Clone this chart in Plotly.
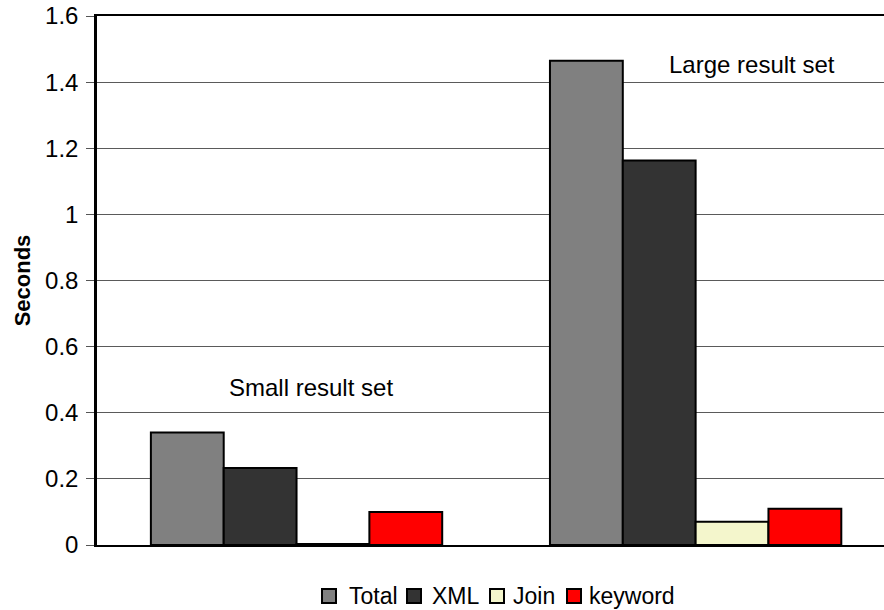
import plotly.graph_objects as go

# Query timing results (seconds) for two result-set sizes
groups = [0, 1]
group_labels = ["Small result set", "Large result set"]
total = [0.34, 1.465]
xml = [0.233, 1.163]
join = [0.003, 0.07]
keyword = [0.10, 0.11]

series_names = ["Total", "XML", "Join", "keyword"]
series_values = [total, xml, join, keyword]
series_colors = ["#808080", "#333333", "#F4F6CC", "#FF0000"]

y_ticks = [0, 0.2, 0.4, 0.6, 0.8, 1.0, 1.2, 1.4, 1.6]
y_tick_text = ["0", "0.2", "0.4", "0.6", "0.8", "1", "1.2", "1.4", "1.6"]

FONT = "Liberation Sans, Arial, sans-serif"
W, H = 884, 610
ML, MR, MT, MB = 97, 0, 16, 65
PW, PH = W - ML - MR, H - MT - MB

fig = go.Figure()
for name, vals, color in zip(series_names, series_values, series_colors):
    fig.add_trace(go.Bar(
        x=groups, y=vals, name=name,
        marker=dict(color=color, line=dict(color="black", width=2)),
    ))

fig.update_layout(
    width=W, height=H,
    margin=dict(l=ML, r=MR, t=MT, b=MB),
    paper_bgcolor="white", plot_bgcolor="white",
    barmode="group", bargap=0.27, bargroupgap=0,
    font=dict(family=FONT, size=24, color="black"),
    showlegend=False,
    xaxis=dict(
        range=[-0.5, 1.472], showticklabels=False, ticks="",
        showgrid=False, zeroline=False,
        showline=True, linecolor="black", linewidth=2, mirror=True,
    ),
    yaxis=dict(
        range=[0, 1.6], tickvals=y_ticks, ticktext=y_tick_text,
        ticks="outside", ticklen=8, tickcolor="#555555", tickwidth=1,
        tickfont=dict(size=24), ticklabelstandoff=3,
        showgrid=True, gridcolor="#5a5a5a", gridwidth=1,
        zeroline=False,
        showline=True, linecolor="black", linewidth=2.5,
        title=dict(text="<b>Seconds</b>", font=dict(size=22), standoff=9),
    ),
)

fig.add_annotation(x=0.036, y=0.477, xref="x", yref="y", text=group_labels[0],
                   showarrow=False, font=dict(size=24), xanchor="center", yanchor="middle")
fig.add_annotation(x=1.142, y=1.453, xref="x", yref="y", text=group_labels[1],
                   showarrow=False, font=dict(size=24), xanchor="center", yanchor="middle")

# Legend row below the plot: swatch + label for each series
def px_x(px):
    return (px - ML) / PW

def px_y(py):
    return (H - MB - py) / PH

swatch_left = [322, 407, 490, 567]
label_left = [348, 431, 512, 588]
legend_cy = 596
half = 7
for name, color, sx, lx in zip(series_names, series_colors, swatch_left, label_left):
    fig.add_shape(type="rect", xref="paper", yref="paper",
                  x0=px_x(sx), x1=px_x(sx + 2 * half),
                  y0=px_y(legend_cy + half), y1=px_y(legend_cy - half),
                  fillcolor=color, line=dict(color="black", width=2))
    fig.add_annotation(x=px_x(lx), y=px_y(legend_cy), xref="paper", yref="paper",
                       text=name, showarrow=False, xanchor="left", yanchor="middle",
                       xshift=-1, font=dict(size=23))

fig.write_html("out.html")
